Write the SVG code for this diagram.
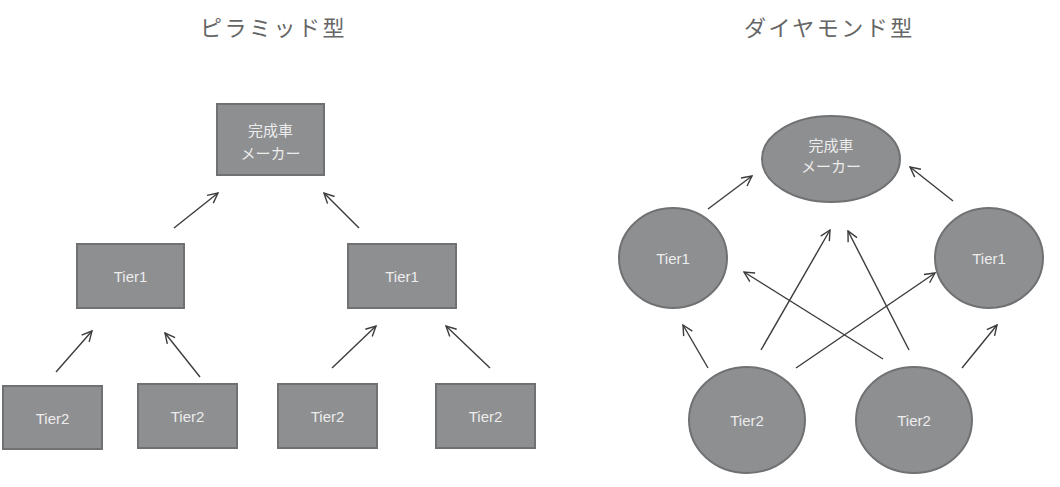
<svg xmlns="http://www.w3.org/2000/svg" width="1060" height="487" viewBox="0 0 1060 487">
<style>
.title{font-family:"Noto Sans CJK JP",sans-serif;font-size:22px;fill:#666;letter-spacing:2.5px;font-weight:normal}
.node{fill:#8e8f91;stroke:#707173;stroke-width:2}
.lbl{font-family:"Liberation Sans","Noto Sans CJK JP",sans-serif;font-size:15px;fill:#ececec;text-anchor:middle}
.jp{font-family:"Noto Sans CJK JP",sans-serif;font-size:15px;fill:#ececec;text-anchor:middle}
.conn line{stroke:#3c3c3c;stroke-width:1.4;fill:none;marker-end:url(#ah)}
</style>
<defs>
<marker id="ah" viewBox="0 0 12 12" refX="11" refY="6" markerWidth="12" markerHeight="12" markerUnits="userSpaceOnUse" orient="auto">
<path d="M1,1 L11,6 L1,11" fill="none" stroke="#3c3c3c" stroke-width="1.4"/>
</marker>
</defs>
<rect width="1060" height="487" fill="#fff"/>
<text class="title" x="200" y="36">ピラミッド型</text>
<text class="title" x="744" y="36">ダイヤモンド型</text>

<g id="p-maker"><rect class="node" x="217" y="104" width="107" height="71"/><text class="jp" x="270.5" y="136">完成車</text><text class="jp" x="270.5" y="159">メーカー</text></g>
<g id="p-tier1a"><rect class="node" x="77" y="244" width="107" height="64"/><text class="lbl" x="130.5" y="282">Tier1</text></g>
<g id="p-tier1b"><rect class="node" x="348" y="244" width="108" height="64"/><text class="lbl" x="402" y="282">Tier1</text></g>
<g id="p-tier2a"><rect class="node" x="3" y="386" width="99" height="63"/><text class="lbl" x="52.5" y="424">Tier2</text></g>
<g id="p-tier2b"><rect class="node" x="138" y="384" width="99" height="64"/><text class="lbl" x="187.5" y="422">Tier2</text></g>
<g id="p-tier2c"><rect class="node" x="278" y="384" width="99" height="64"/><text class="lbl" x="327.5" y="422">Tier2</text></g>
<g id="p-tier2d"><rect class="node" x="436" y="384" width="99" height="64"/><text class="lbl" x="485.5" y="422">Tier2</text></g>

<g id="d-maker"><ellipse class="node" cx="831" cy="159" rx="69" ry="43"/><text class="jp" x="831" y="151">完成車</text><text class="jp" x="831" y="172">メーカー</text></g>
<g id="d-tier1a"><ellipse class="node" cx="673" cy="258" rx="54" ry="50"/><text class="lbl" x="673" y="264">Tier1</text></g>
<g id="d-tier1b"><ellipse class="node" cx="989" cy="258" rx="54" ry="50"/><text class="lbl" x="989" y="264">Tier1</text></g>
<g id="d-tier2a"><ellipse class="node" cx="747" cy="420" rx="58" ry="53"/><text class="lbl" x="747" y="426">Tier2</text></g>
<g id="d-tier2b"><ellipse class="node" cx="914" cy="420" rx="58" ry="53"/><text class="lbl" x="914" y="426">Tier2</text></g>

<g id="connectors" class="conn">
<line x1="174" y1="228" x2="218" y2="193"/>
<line x1="359" y1="228" x2="324" y2="193"/>
<line x1="56" y1="372" x2="92" y2="331"/>
<line x1="200" y1="377" x2="165" y2="333"/>
<line x1="332" y1="368" x2="376" y2="326"/>
<line x1="490" y1="368" x2="446" y2="326"/>
<line x1="708" y1="209" x2="752" y2="176"/>
<line x1="953" y1="201" x2="910" y2="167"/>
<line x1="761" y1="350" x2="830" y2="230"/>
<line x1="909" y1="350" x2="848" y2="231"/>
<line x1="883" y1="359" x2="744" y2="272"/>
<line x1="796" y1="368" x2="935" y2="273"/>
<line x1="708" y1="368" x2="683" y2="325"/>
<line x1="962" y1="368" x2="997" y2="325"/>
</g>
</svg>
